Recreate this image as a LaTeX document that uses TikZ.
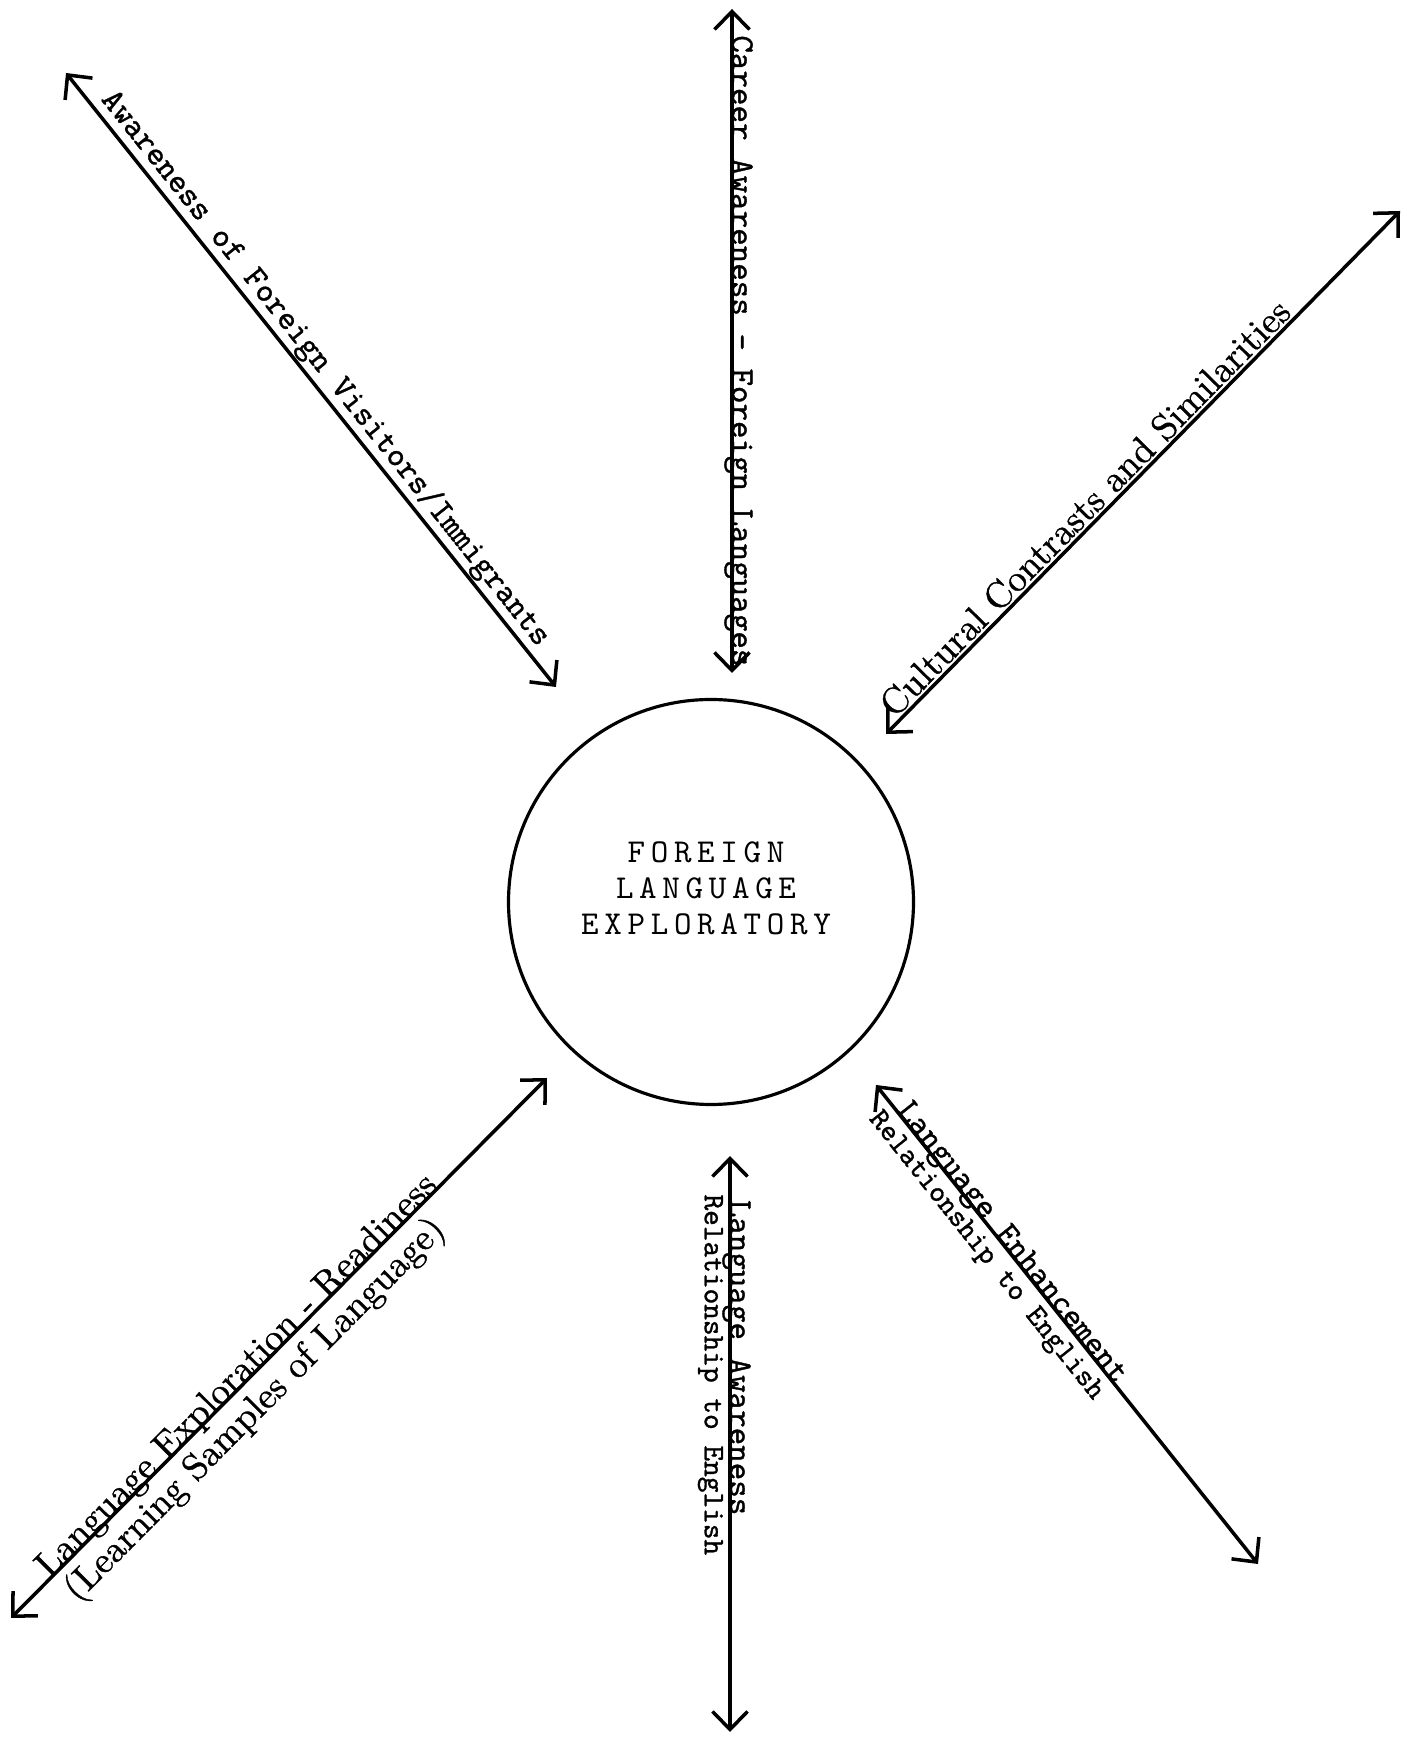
\documentclass[tikz,border=0pt]{standalone}
\usepackage{fontspec}
\newfontfamily\typefont[FakeBold=1]{lmmono10-regular.otf}
\newfontfamily\printfont[FakeBold=1]{lmroman10-regular.otf}
\newfontfamily\hubfont[LetterSpace=17]{lmmono10-regular.otf}
\usetikzlibrary{arrows.meta}

\begin{document}
\begin{tikzpicture}[scale=1.0,
        link/.style={line width=2pt, >={Straight Barb[length=3.6mm,width=7mm]}, <->},
        typelabel/.style={font=\typefont\fontsize{19}{22}\selectfont, inner sep=1pt},
        typesmall/.style={font=\typefont\fontsize{17}{20}\selectfont, inner sep=3pt},
        printlabel/.style={font=\printfont\fontsize{21}{25}\selectfont, inner sep=1pt},
        hubtext/.style={font=\hubfont\fontsize{19}{20.5}\selectfont, align=center}]
        \useasboundingbox (0,0) rectangle (28.26,34.86);

        \node[draw, circle, line width=1.8pt, minimum size=8.1cm] (fle) at (14.22,16.82) {};
        \node[hubtext] (flet) at (14.12,17.10) {FOREIGN\\LANGUAGE\\EXPLORATORY};

%       hub side and free end of each arrow
        \coordinate (a1i) at (11.12,21.12); \coordinate (a1o) at (1.32,33.40);
        \coordinate (a2i) at (14.64,21.40); \coordinate (a2o) at (14.64,34.68);
        \coordinate (a3i) at (17.72,20.18); \coordinate (a3o) at (28.00,30.64);
        \coordinate (a4i) at (17.52,13.16); \coordinate (a4o) at (25.16,3.58);
        \coordinate (a5i) at (14.60,11.74); \coordinate (a5o) at (14.60,0.22);
        \coordinate (a6i) at (10.94,13.30); \coordinate (a6o) at (0.22,2.50);

        \draw[link] (a1i) -- (a1o) node[typelabel, sloped, above, inner sep=0.5pt, pos=0.5] {Awareness of Foreign Visitors/Immigrants};
        \draw[link] (a2i) -- (a2o) node[typelabel, rotate=-90, anchor=base, pos=0.485] {Career Awareness - Foreign Languages};
        \draw[link] (a3i) -- (a3o) node[printlabel, sloped, above, pos=0.41] {Cultural Contrasts and Similarities};
        \draw[link] (a4i) -- (a4o) node[typelabel, sloped, anchor=base, pos=0.34] {Language Enhancement}
            node[typesmall, sloped, anchor=north, inner sep=4pt, pos=0.33] {Relationship to English};
        \draw[link] (a5i) -- (a5o) node[typelabel, rotate=-90, anchor=base, pos=0.35] {Language Awareness}
            node[typesmall, rotate=-90, anchor=north, pos=0.38] {Relationship to English};
        \draw[link] (a6i) -- (a6o) node[printlabel, sloped, anchor=base, pos=0.565] {Language Exploration - Readiness}
            node[printlabel, sloped, anchor=north, inner sep=4pt, pos=0.58] {(Learning Samples of Language)};

%        \draw[thick] (fle) circle[radius=4.05cm];
    \end{tikzpicture}
\end{document}
